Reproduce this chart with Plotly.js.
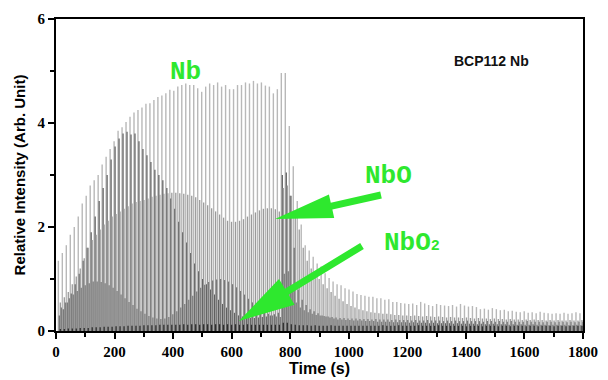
<!DOCTYPE html>
<html>
<head>
<meta charset="utf-8">
<script src="https://cdn.plot.ly/plotly-3.0.1.min.js"></script>
<style>html,body{margin:0;padding:0;background:#fff;}#chart{width:608px;height:380px;}</style>
</head>
<body>
<div id="chart"></div>
<script>
// Cycle timing of the spikes (s)
const cycleStart = 8;
const cyclePeriod = 13.6;

// Peak heights of each spike, one per cycle
const nbPeaks = [1.35,1.5,1.65,1.85,2.0,2.2,2.45,2.6,2.8,2.9,3.0,3.2,3.35,3.5,3.65,3.85,3.92,4.02,4.12,4.2,4.25,4.3,4.37,4.38,4.44,4.5,4.53,4.57,4.64,4.62,4.7,4.73,
 4.76,4.73,4.73,4.67,4.6,4.7,4.76,4.73,4.78,4.7,4.73,4.65,4.65,4.73,4.73,4.78,4.76,4.81,4.76,4.78,4.72,4.7,4.57,4.65,4.96,4.96,
 3.94,3.17,2.5,2.05,1.65,1.55,1.43,1.3,1.24,1.11,1.02,0.95,0.9,0.88,0.82,0.8,0.76,0.71,0.69,0.68,0.66,0.66,0.63,0.63,0.6,0.61,0.56,0.56,0.54,0.53,0.52,0.53,0.5,0.56,0.53,0.5,0.48,0.52,0.5,0.49,0.48,
 0.5,0.47,0.52,0.49,0.47,0.48,0.46,0.42,0.43,0.41,0.44,0.42,0.4,0.41,0.38,0.39,0.37,0.36,0.38,0.35,0.36,0.34,0.37,0.35,0.34,0.33,0.34,0.33,0.35,0.33,0.34,0.36,0.34];

const nboPeaks = [0.55,0.65,0.75,0.9,1.05,1.2,1.4,1.6,1.75,1.85,
 1.95,2.05,2.12,2.2,2.25,2.3,2.35,2.4,2.45,2.48,
 2.5,2.52,2.55,2.58,2.6,2.62,2.64,2.65,2.66,2.66,
 2.65,2.64,2.62,2.6,2.57,2.52,2.47,2.42,2.36,2.3,
 2.24,2.18,2.12,2.1,2.1,2.12,2.15,2.2,2.24,2.28,
 2.32,2.35,2.36,2.36,2.34,2.3,2.75,2.8,2.6,2.3,
 1.95,1.6,1.35,1.2,1.1,1.0,0.9,0.82,0.75,0.68,
 0.62,0.57,0.52,0.48,0.45,0.42,0.4,0.38,0.36,0.35,
 0.34,0.33,0.33,0.32,0.31,0.31,0.3,0.3,0.29,0.3,
 0.29,0.28,0.29,0.28,0.27,0.28,0.27,0.26,0.27,0.26,
 0.26,0.25,0.26,0.25,0.24,0.25,0.24,0.24,0.23,0.24,
 0.23,0.23,0.22,0.23,0.22,0.22,0.21,0.22,0.21,0.22,
 0.21,0.21,0.2,0.21,0.2,0.21,0.2,0.2,0.21,0.2,0.2,0.21];

const darkPeaks = [0.3,0.42,0.55,0.72,0.9,1.1,1.35,1.6,1.9,2.2,
 2.5,2.75,3.0,3.3,3.55,3.7,3.8,3.83,3.78,3.8,
 3.65,3.5,3.38,3.25,3.1,3.0,2.9,2.75,2.55,2.35,
 2.1,1.9,1.7,1.5,1.3,1.15,1.0,0.9,0.8,0.7,
 0.6,0.52,0.45,0.4,0.35,0.3,0.28,0.26,0.25,0.25,
 0.26,0.27,0.28,0.3,0.32,0.35,3.0,3.05,2.6,1.6,
 0.8,0.6,0.5,0.42,0.38,0.34,0.3,0.28,0.26,0.24,
 0.22,0.22,0.21,0.21,0.2,0.2,0.2,0.19,0.19,0.19,
 0.18,0.18,0.18,0.18,0.17,0.17,0.17,0.17,0.16,0.17,
 0.16,0.16,0.16,0.15,0.16,0.15,0.15,0.15,0.15,0.14,
 0.15,0.14,0.14,0.14,0.14,0.13,0.14,0.13,0.13,0.14,
 0.13,0.13,0.13,0.12,0.13,0.12,0.13,0.12,0.12,0.13,
 0.12,0.12,0.12,0.11,0.12,0.12,0.11,0.12,0.11,0.11,0.12,0.11];

const midPeaks = [0.45,0.55,0.63,0.7,0.77,0.83,0.88,0.92,0.95,0.95,
 0.94,0.92,0.88,0.83,0.77,0.7,0.63,0.56,0.5,0.43,
 0.38,0.33,0.29,0.26,0.24,0.23,0.24,0.27,0.32,0.38,
 0.45,0.52,0.6,0.68,0.76,0.83,0.89,0.94,0.97,0.99,
 1.0,0.98,0.95,0.9,0.84,0.77,0.7,0.62,0.55,0.48,
 0.42,0.37,0.33,0.3,0.28,0.27,1.1,1.15,0.8,0.55,
 0.45,0.4,0.36,0.33,0.31,0.3,0.29,0.28,0.27,0.26,
 0.25,0.25,0.24,0.24,0.24,0.23,0.23,0.23,0.22,0.23,
 0.22,0.22,0.22,0.21,0.22,0.21,0.21,0.21,0.2,0.21,
 0.2,0.2,0.21,0.2,0.2,0.2,0.19,0.2,0.19,0.2,
 0.19,0.19,0.2,0.19,0.19,0.19,0.18,0.19,0.19,0.18,
 0.19,0.18,0.18,0.19,0.18,0.18,0.18,0.19,0.18,0.18,
 0.18,0.17,0.18,0.18,0.17,0.18,0.18,0.17,0.18,0.17,0.18,0.18];

const nbo2Peaks = [0.04,0.04,0.05,0.05,0.05,0.06,0.06,0.06,0.07,0.07,
 0.07,0.08,0.08,0.08,0.09,0.09,0.09,0.1,0.1,0.1,
 0.1,0.11,0.11,0.11,0.11,0.12,0.12,0.12,0.12,0.12,
 0.12,0.13,0.12,0.13,0.13,0.12,0.13,0.13,0.12,0.13,
 0.13,0.12,0.13,0.12,0.13,0.12,0.12,0.13,0.12,0.12,
 0.12,0.12,0.12,0.12,0.12,0.12,0.16,0.16,0.13,0.12,
 0.11,0.11,0.11,0.1,0.11,0.1,0.1,0.1,0.11,0.1,
 0.1,0.1,0.1,0.1,0.1,0.1,0.1,0.1,0.1,0.1,
 0.1,0.11,0.1,0.1,0.1,0.11,0.1,0.1,0.1,0.1,
 0.11,0.1,0.1,0.1,0.1,0.11,0.1,0.1,0.1,0.1,
 0.1,0.1,0.09,0.1,0.1,0.1,0.09,0.1,0.1,0.1,
 0.09,0.1,0.1,0.09,0.1,0.1,0.1,0.09,0.1,0.1,
 0.09,0.1,0.1,0.1,0.09,0.1,0.1,0.09,0.1,0.1,0.1,0.1];

const xTickVals = [0,200,400,600,800,1000,1200,1400,1600,1800];
const yTickVals = [0,2,4,6];

const times = nbPeaks.map((_, i) => cycleStart + cyclePeriod * i);

// each spike drawn as a vertical stick from 0 to its peak value
function spikes(vals, offset, color, w) {
  const xs = [], ys = [];
  vals.forEach((v, i) => { const t = times[i] + offset; xs.push(t, t, null); ys.push(0, v, null); });
  return {
    type: 'scatter', mode: 'lines', x: xs, y: ys,
    line: {color: color, width: w},
    connectgaps: false, hoverinfo: 'skip', showlegend: false
  };
}

const data = [
  spikes(nbPeaks, 0, '#b8b8b8', 1.4),
  spikes(darkPeaks, 3.4, '#5c5c5c', 1.2),
  spikes(nboPeaks, 6.8, '#9a9a9a', 1.3),
  spikes(midPeaks, 10.2, '#777777', 1.2),
  spikes(nbo2Peaks, 6.8, '#2e2e2e', 1.3)
];

// arrow polygons in plot-area (paper) coordinates, from pixel geometry of the plot box
const plotL = 56, plotR = 583, plotT = 19, plotB = 331;
function arrowPath(tail, tip, headLen, headHalf, shaftHalf) {
  const dx = tip[0]-tail[0], dy = tip[1]-tail[1];
  const len = Math.hypot(dx, dy);
  const ux = dx/len, uy = dy/len, nx = -uy, ny = ux;
  const bx = tip[0]-ux*headLen, by = tip[1]-uy*headLen;
  const pts = [
    [tail[0]+nx*shaftHalf, tail[1]+ny*shaftHalf],
    [bx+nx*shaftHalf, by+ny*shaftHalf],
    [bx+nx*headHalf, by+ny*headHalf],
    tip,
    [bx-nx*headHalf, by-ny*headHalf],
    [bx-nx*shaftHalf, by-ny*shaftHalf],
    [tail[0]-nx*shaftHalf, tail[1]-ny*shaftHalf]
  ];
  const toP = p => [((p[0]-plotL)/(plotR-plotL)).toFixed(4), ((plotB-p[1])/(plotB-plotT)).toFixed(4)];
  return 'M' + pts.map(p => toP(p).join(',')).join('L') + 'Z';
}
const green = '#2ee82e';
const shapes = [
  {type:'path', xref:'paper', yref:'paper', path: arrowPath([381,195],[275,219],58,12,3.5), fillcolor: green, line:{width:0}},
  {type:'path', xref:'paper', yref:'paper', path: arrowPath([362,246],[239,321],56,15,3.5), fillcolor: green, line:{width:0}}
];

const labelFont = {family:'Liberation Mono, Courier New, monospace', size:26, color: green, weight:'bold'};
const annotations = [
  {x:444, y:4.98, text:'Nb', showarrow:false, font:labelFont},
  {x:1134, y:2.98, text:'NbO', showarrow:false, font:labelFont},
  {x:1216, y:1.69, text:'NbO<span style="font-size:15px">2</span>', showarrow:false, font:labelFont},
  {x:1489, y:5.19, text:'BCP112 Nb', showarrow:false, font:{family:'Liberation Sans, Arial, sans-serif', size:14, color:'#111', weight:'bold'}}
];

const layout = {
  width: 608, height: 380,
  margin: {l: 56, r: 25, t: 19, b: 49, pad: 0},
  paper_bgcolor: '#fff', plot_bgcolor: '#fff',
  showlegend: false,
  xaxis: {
    range: [0, 1800], tickvals: xTickVals, ticks: 'outside', ticklen: 6, tickwidth: 2, tickcolor: '#000',
    minor: {dtick: 100, ticks: 'outside', ticklen: 4, tickwidth: 2, tickcolor: '#000'},
    showline: true, linewidth: 2, linecolor: '#000', mirror: true, showgrid: false, zeroline: false,
    tickfont: {family: 'Liberation Serif, Times New Roman, serif', size: 15, color: '#000', weight: 'bold'},
    title: {text: 'Time (s)', standoff: 4, font: {family: 'Liberation Sans, Arial, sans-serif', size: 16, color: '#000', weight: 'bold'}}
  },
  yaxis: {
    range: [0, 6], tickvals: yTickVals, ticks: 'outside', ticklen: 6, tickwidth: 2, tickcolor: '#000',
    minor: {dtick: 1, ticks: 'outside', ticklen: 4, tickwidth: 2, tickcolor: '#000'},
    showline: true, linewidth: 2, linecolor: '#000', mirror: true, showgrid: false, zeroline: false,
    tickfont: {family: 'Liberation Serif, Times New Roman, serif', size: 15, color: '#000', weight: 'bold'},
    title: {text: 'Relative Intensity (Arb. Unit)', standoff: 8, font: {family: 'Liberation Sans, Arial, sans-serif', size: 15, color: '#000', weight: 'bold'}}
  },
  shapes: shapes,
  annotations: annotations
};

Plotly.newPlot('chart', data, layout, {staticPlot: true, displayModeBar: false});
</script>
</body>
</html>
